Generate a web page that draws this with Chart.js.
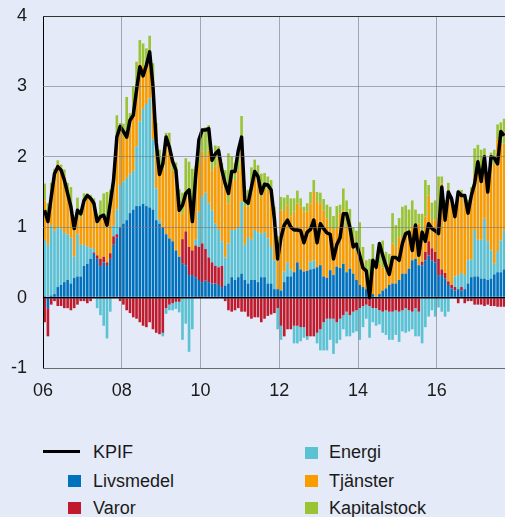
<!DOCTYPE html>
<html>
<head>
<meta charset="utf-8">
<script src="https://cdn.jsdelivr.net/npm/chart.js@4/dist/chart.umd.min.js"></script>
<style>
  html,body{margin:0;padding:0;background:#E4EAF7;}
  body{width:505px;height:517px;overflow:hidden;position:relative;font-family:"Liberation Sans",Arial,sans-serif;color:#1a1a1a;}
  #wrap{position:absolute;left:0;top:0;width:505px;height:400px;}
  .lg{position:absolute;font-size:18px;line-height:20px;white-space:nowrap;}
  .sw{position:absolute;width:13px;height:12px;}
</style>
</head>
<body>
<div id="wrap"><canvas id="c" width="505" height="400"></canvas></div>

<div style="position:absolute;left:43px;top:450px;width:37px;height:3px;background:#000"></div>
<div class="lg" style="left:93px;top:442px">KPIF</div>
<div class="sw" style="left:68px;top:475px;background:#0071BC"></div>
<div class="lg" style="left:93px;top:471px">Livsmedel</div>
<div class="sw" style="left:68px;top:502px;background:#C01B2D"></div>
<div class="lg" style="left:93px;top:498px">Varor</div>
<div class="sw" style="left:305px;top:447px;background:#5BC2D3"></div>
<div class="lg" style="left:329px;top:442px">Energi</div>
<div class="sw" style="left:305px;top:475px;background:#F89C00"></div>
<div class="lg" style="left:329px;top:471px">Tjänster</div>
<div class="sw" style="left:305px;top:502px;background:#9AC434"></div>
<div class="lg" style="left:329px;top:498px">Kapitalstock</div>

<script>
// Monthly data, January 2006 onwards (percentage points)
const startYear = 2006;
const xTickYears = [2006, 2008, 2010, 2012, 2014, 2016];
const yTickValues = [-1, 0, 1, 2, 3, 4];

const livsmedel = [
 0.02,-0.15,0.03,0.05,0.15,0.18,0.22,0.25,0.2,0.28,0.3,0.3,0.45,0.48,0.55,0.62,0.55,0.45,0.5,0.45,0.55,0.75,0.85,1.0,1.05,1.1,1.2,1.25,1.3,1.3,1.33,1.3,1.28,1.25,1.1,1.05,
 1.0,0.9,0.84,0.8,0.67,0.58,0.48,0.46,0.32,0.32,0.29,0.25,0.22,0.24,0.22,0.2,0.2,0.18,0.15,0.17,0.2,0.29,0.25,0.29,0.34,0.25,0.2,0.25,0.25,0.22,0.29,0.29,0.2,0.2,0.12,0.12,
 0.1,0.22,0.3,0.3,0.36,0.5,0.4,0.37,0.38,0.4,0.41,0.43,0.46,0.3,0.28,0.39,0.32,0.44,0.42,0.48,0.36,0.41,0.34,0.25,0.18,0.15,0.12,0.0,0.05,0.0,0.05,0.1,0.13,0.18,0.2,0.2,
 0.25,0.34,0.34,0.41,0.53,0.55,0.46,0.46,0.53,0.6,0.53,0.5,0.32,0.32,0.27,0.18,0.13,0.1,0.12,0.1,0.12,0.2,0.29,0.3,0.3,0.27,0.27,0.25,0.27,0.33,0.36,0.36,0.4
];
const varor = [
 -0.35,-0.4,-0.1,-0.05,-0.12,-0.12,-0.15,-0.15,-0.18,-0.15,-0.1,-0.05,-0.05,-0.08,-0.05,0.02,0.05,0.1,0.08,0.05,0.08,0.12,0.05,-0.05,-0.1,-0.18,-0.22,-0.28,-0.3,-0.35,-0.4,-0.42,-0.35,-0.45,-0.5,-0.52,
 -0.5,-0.15,-0.1,-0.08,-0.06,-0.06,0.35,0.48,0.4,0.35,0.45,0.47,0.55,0.45,0.35,0.3,0.25,0.25,0.3,-0.05,-0.18,-0.2,-0.18,-0.15,-0.2,-0.2,-0.27,-0.3,-0.28,-0.28,-0.35,-0.3,-0.26,-0.24,-0.22,-0.15,
 -0.4,-0.55,-0.45,-0.45,-0.4,-0.4,-0.42,-0.42,-0.55,-0.55,-0.55,-0.5,-0.45,-0.35,-0.3,-0.3,-0.3,-0.35,-0.3,-0.25,-0.2,-0.25,-0.2,-0.18,-0.15,-0.12,-0.1,-0.12,-0.15,-0.15,-0.18,-0.2,-0.18,-0.2,-0.2,-0.18,
 -0.2,-0.18,-0.15,-0.18,-0.2,-0.15,-0.2,0.05,0.12,0.2,0.17,0.15,0.23,0.08,0.08,0.05,0.05,0.05,-0.08,0.05,-0.08,-0.05,-0.05,-0.1,-0.1,-0.1,-0.12,-0.1,-0.12,-0.12,-0.13,-0.13,-0.13
];
const energi = [
 0.8,0.75,1.0,0.9,0.85,0.8,0.7,0.65,0.65,0.3,0.6,0.45,0.3,0.25,0.15,0.05,-0.15,-0.25,-0.4,-0.58,-0.2,0.15,0.35,0.6,0.6,0.6,0.55,0.55,0.85,1.2,1.35,1.45,1.55,1.0,0.45,0.05,
 -0.05,-0.08,-0.08,-0.1,-0.1,-0.15,-0.6,-0.37,-0.77,-0.45,0.08,0.5,0.66,0.8,0.77,0.74,0.6,0.53,0.35,0.4,0.57,0.67,0.71,0.71,1.02,0.5,0.66,0.57,0.71,0.71,0.62,0.64,0.64,0.52,0.41,-0.3,
 -0.2,0.15,0.2,0.1,-0.25,-0.25,-0.2,-0.15,-0.05,0.11,0.12,-0.15,-0.3,-0.4,-0.45,-0.3,-0.5,-0.3,-0.3,-0.2,-0.35,-0.3,-0.3,-0.3,-0.45,-0.3,-0.2,-0.45,-0.2,-0.25,-0.2,-0.3,-0.35,-0.4,-0.4,-0.35,
 -0.43,-0.3,-0.35,-0.3,-0.25,-0.4,-0.35,-0.65,-0.42,-0.27,-0.18,-0.27,-0.14,-0.2,-0.27,-0.2,0.0,0.15,0.2,0.2,0.2,0.33,0.25,0.66,0.52,0.55,0.85,0.55,0.4,0.15,0.3,0.45,0.55
];
const tjanster = [
 0.56,0.4,0.5,0.83,0.9,0.87,0.8,0.63,0.44,0.42,0.28,0.38,0.59,0.7,0.71,0.6,0.45,0.6,0.57,0.5,0.66,0.65,0.99,0.78,0.63,0.58,0.77,0.77,0.8,0.83,0.6,0.6,0.64,0.89,0.83,0.76,
 0.83,1.24,1.25,1.0,1.05,0.76,0.36,0.49,0.81,0.41,0.75,0.68,0.64,0.5,0.75,0.57,0.81,1.04,0.92,0.96,0.57,0.71,0.71,0.81,0.78,0.55,0.43,0.75,0.76,0.74,0.52,0.6,0.69,0.81,0.57,0.6,
 1.14,0.86,0.81,0.75,0.86,0.84,0.89,0.85,0.84,0.83,0.97,0.93,0.88,0.94,0.84,0.61,0.64,0.56,0.77,0.76,0.64,0.5,0.52,0.4,0.49,0.38,0.27,0.15,0.33,0.43,0.43,0.33,0.26,0.3,0.57,0.52,
 0.6,0.52,0.61,0.47,0.47,0.45,0.59,0.45,0.5,0.65,0.4,0.45,0.6,1.22,0.99,1.3,1.16,0.94,1.16,1.08,1.02,0.71,0.93,0.8,0.94,0.98,0.78,0.7,1.19,1.42,1.59,1.38,1.24
];
const kapitalstock = [
 0.24,0.19,0.1,0.05,0.05,0.04,0.1,0.1,0.28,0.1,0.24,0.05,0.14,0.05,0.05,0.12,0.14,0.23,0.33,0.5,0.24,0.09,0.35,0.1,0.19,0.57,0.1,0.43,0.4,0.33,0.33,0.19,0.25,0.19,0.1,0.24,
 0.1,0.2,0.25,0.15,0.2,0.2,0.3,0.55,0.4,0.75,0.3,0.2,0.33,0.43,0.36,0.2,0.3,0.15,0.19,0.28,0.71,0.33,0.24,0.24,0.44,0.24,0.24,0.28,0.24,0.21,0.33,0.24,0.19,0.14,0.19,0.15,
 0.19,0.19,0.15,0.26,0.19,0.18,0.12,0.07,0.12,0.16,0.17,0.14,0.15,0.16,0.2,0.29,0.2,0.3,0.13,0.31,0.38,0.35,0.14,0.3,0.4,0.19,0.14,0.4,0.38,0.1,0.24,0.38,0.26,0.14,0.43,0.31,
 0.28,0.43,0.36,0.37,0.38,0.25,0.14,0.23,0.52,0.15,0.25,0.28,0.57,0.1,0.05,0.1,0.1,0.05,0.05,0.1,0.05,0.15,0.1,0.36,0.41,0.3,0.22,0.2,0.2,0.2,0.21,0.3,0.35
];
const kpif = [
 1.24,1.08,1.43,1.76,1.86,1.81,1.67,1.48,1.29,0.98,1.24,1.19,1.38,1.45,1.41,1.34,1.08,1.15,1.17,1.03,1.34,1.67,2.28,2.43,2.36,2.28,2.52,2.59,2.95,3.28,3.15,3.3,3.49,3.0,2.2,1.75,
 1.9,2.28,2.14,1.93,1.81,1.24,1.31,1.48,1.53,1.08,1.72,2.24,2.38,2.38,2.4,1.95,2.04,2.09,1.81,1.62,1.48,1.79,1.79,2.09,2.28,1.38,1.34,1.57,1.79,1.72,1.48,1.61,1.6,1.53,1.12,0.55,
 0.85,1.03,1.1,1.0,0.96,0.96,0.95,0.78,0.93,0.97,1.1,0.78,1.05,0.98,0.92,0.9,0.55,0.75,0.85,1.19,1.19,1.0,0.72,0.76,0.6,0.42,0.38,0.0,0.53,0.43,0.77,0.6,0.45,0.33,0.57,0.57,
 0.53,0.77,0.91,0.93,0.67,1.03,0.6,0.93,0.8,1.05,0.98,0.95,0.91,1.57,1.1,1.5,1.4,1.15,1.5,1.45,1.45,1.2,1.45,1.62,1.93,1.65,2.0,1.5,2.0,1.98,1.9,2.36,2.3
];

const toPts = arr => arr.map((v, i) => ({ x: startYear + (i + 0.5) / 12, y: v }));

const barDs = (label, data, color) => ({
  type: 'bar', label, data: toPts(data), backgroundColor: color,
  borderWidth: 0, barPercentage: 0.8, categoryPercentage: 1, stack: 'bars', order: 2
});

const FONT = { family: '"Liberation Sans", Arial, sans-serif', size: 18 };

new Chart(document.getElementById('c'), {
  data: {
    datasets: [
      { type: 'line', label: 'KPIF', data: toPts(kpif), borderColor: '#000', borderWidth: 3.5,
        pointRadius: 0, tension: 0, stack: 'kpif', order: 1, borderJoinStyle: 'round' },
      barDs('Livsmedel', livsmedel, '#0071BC'),
      barDs('Varor', varor, '#C01B2D'),
      barDs('Energi', energi, '#5BC2D3'),
      barDs('Tjänster', tjanster, '#F89C00'),
      barDs('Kapitalstock', kapitalstock, '#9AC434')
    ]
  },
  options: {
    responsive: false,
    animation: false,
    devicePixelRatio: 1,
    layout: { padding: { top: 16, right: 0, left: 0, bottom: 0 } },
    plugins: { legend: { display: false }, tooltip: { enabled: false } },
    scales: {
      x: {
        type: 'linear', min: startYear, max: 2017.73, offset: false,
        afterFit: s => { s.height = 32; s.paddingLeft = 0; s.paddingRight = 0; s.paddingTop = 0; s.paddingBottom = 0; },
        afterBuildTicks: s => { s.ticks = xTickYears.map(v => ({ value: v })); },
        ticks: { font: FONT, color: '#1a1a1a', padding: 12, maxRotation: 0,
                 callback: v => String(v).slice(2) },
        grid: { offset: false, drawTicks: false, z: 1, lineWidth: 1,
                color: c => c.tick && c.tick.value === startYear ? '#000' : 'rgba(120,120,125,0.6)' },
        border: { display: false }
      },
      y: {
        stacked: true, min: -1, max: 4,
        afterFit: s => { s.width = 43; s.paddingTop = 0; s.paddingBottom = 0; s.paddingLeft = 0; s.paddingRight = 0; },
        afterBuildTicks: s => { s.ticks = yTickValues.map(v => ({ value: v })); },
        ticks: { font: FONT, color: '#1a1a1a', padding: 16 },
        grid: { drawTicks: false, z: 1,
                lineWidth: c => c.tick && c.tick.value === 0 ? 1.6 : 1,
                color: c => {
                  const v = c.tick ? c.tick.value : null;
                  if (v === 0) return '#000';
                  if (v === 4) return '#333';
                  if (v === -1) return '#6b6b6b';
                  return 'rgba(120,120,125,0.6)';
                } },
        border: { display: false }
      }
    }
  }
});
</script>
</body>
</html>
